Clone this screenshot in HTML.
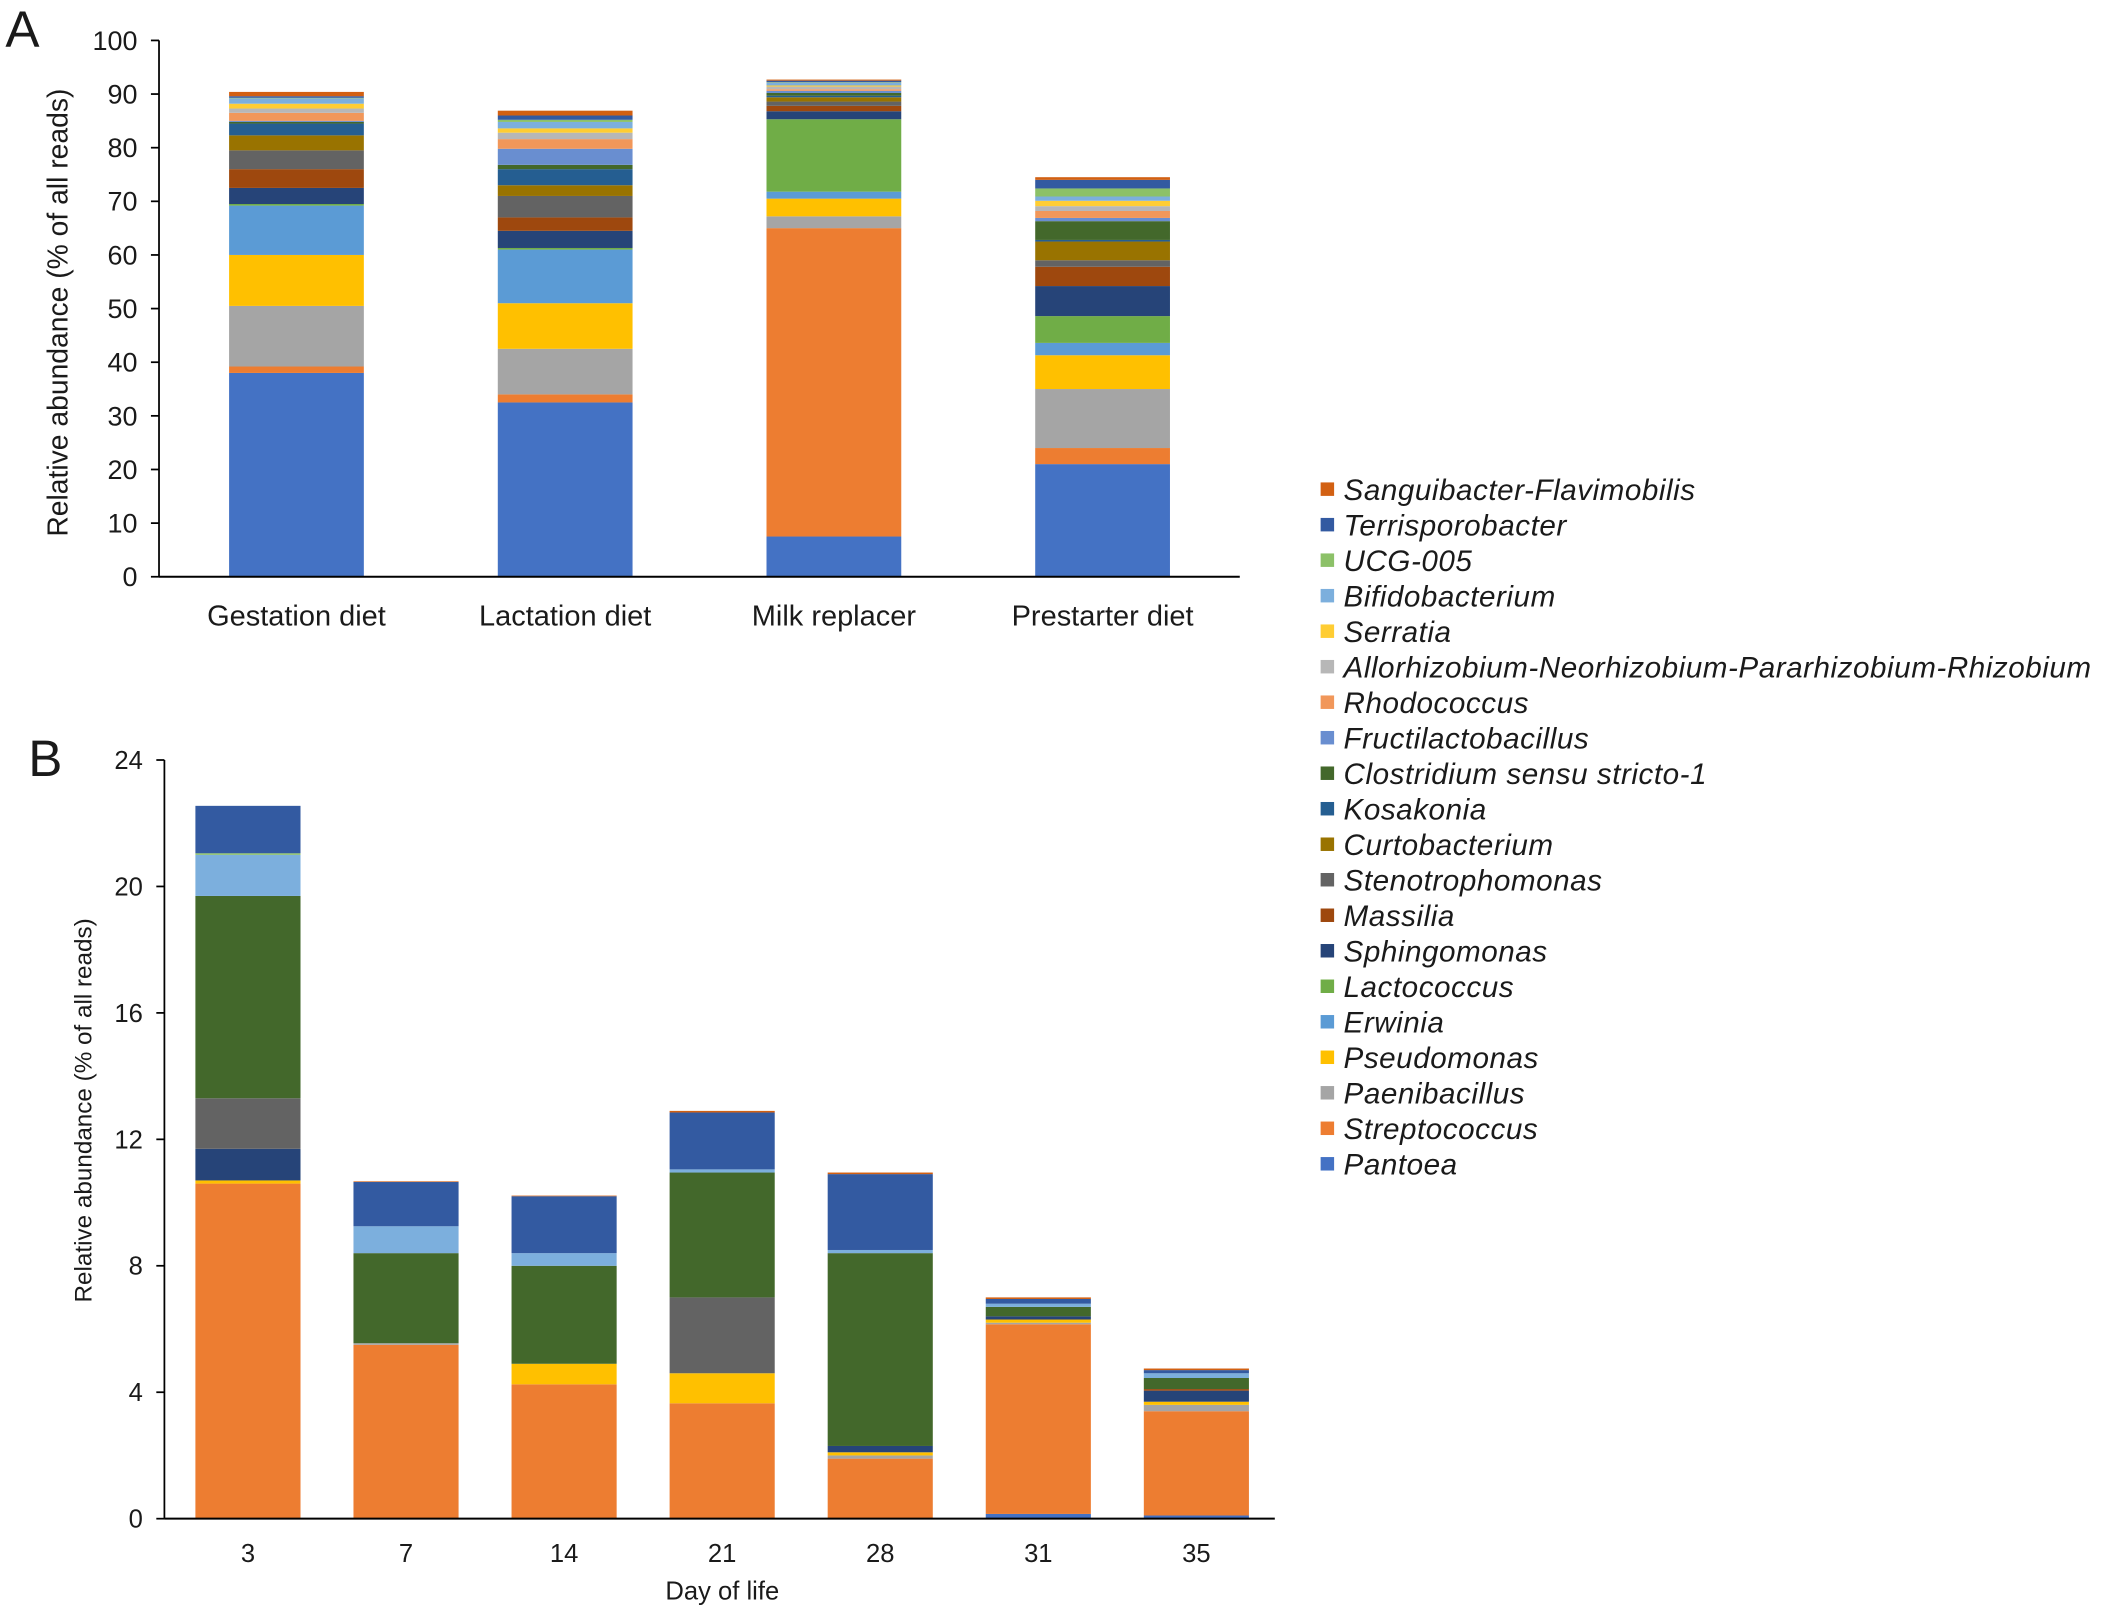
<!DOCTYPE html>
<html><head><meta charset="utf-8"><style>
html,body{margin:0;padding:0;background:#fff}
svg{display:block}
text{font-family:"Liberation Sans",Arial,sans-serif;fill:#1a1a1a}
</style></head><body>
<svg id="chart" width="2113" height="1613" viewBox="0 0 1568 1197" preserveAspectRatio="none" xmlns="http://www.w3.org/2000/svg">
<text x="4" y="35" font-size="38">A</text>
<text x="21" y="576" font-size="38">B</text>
<g id="ga"></g>
<g id="gb"></g>
<g id="legend"></g>
</svg>
<script>
const taxa = ["Pantoea","Streptococcus","Paenibacillus","Pseudomonas","Erwinia","Lactococcus","Sphingomonas","Massilia","Stenotrophomonas","Curtobacterium","Kosakonia","Clostridium sensu stricto-1","Fructilactobacillus","Rhodococcus","Allorhizobium-Neorhizobium-Pararhizobium-Rhizobium","Serratia","Bifidobacterium","UCG-005","Terrisporobacter","Sanguibacter-Flavimobilis"];
const colors = ["#4472C4","#ED7D31","#A5A5A5","#FFC000","#5B9BD5","#70AD47","#264478","#9E480E","#636363","#997300","#255E91","#43682B","#698ED0","#F1975A","#B7B7B7","#FFCD33","#7CAFDD","#8CC168","#335AA1","#D26012"];
const dietCategories = ["Gestation diet","Lactation diet","Milk replacer","Prestarter diet"];
const gestationValues = [38,1.2,11.3,9.5,9.2,0.3,3,3.5,3.5,2.8,2.2,0.3,0.2,1.5,0.8,0.9,1,0.1,0.3,0.8];
const lactationValues = [32.5,1.5,8.5,8.5,10,0.3,3.2,2.5,4,2,3,0.8,3,1.8,1.2,0.8,1.2,0.4,0.8,0.9];
const milkValues = [7.5,57.5,2.2,3.3,1.3,13.5,1.5,1,0.8,0.8,0.3,0.5,0.4,0.3,0.5,0.2,0.5,0.1,0.3,0.2];
const prestarterValues = [21,3,11,6.3,2.3,5,5.6,3.6,1.2,3.5,0.3,3.5,0.6,1.3,0.9,1,0.8,1.5,1.6,0.5];
const aTicks = [0,10,20,30,40,50,60,70,80,90,100];
const dayCategories = ["3","7","14","21","28","31","35"];
const day3 = [0,10.6,0,0.1,0,0,1,0,1.6,0,0,6.4,0,0,0,0,1.3,0.05,1.5,0];
const day7 = [0,5.5,0.05,0,0,0,0,0,0,0,0,2.85,0,0,0,0,0.85,0,1.4,0.02];
const day14 = [0,4.25,0,0.65,0,0,0,0,0,0,0,3.1,0,0,0,0,0.4,0,1.8,0.02];
const day21 = [0,3.65,0,0.95,0,0,0,0,2.4,0,0,3.95,0,0,0,0,0.1,0,1.8,0.05];
const day28 = [0,1.9,0.1,0.1,0,0,0.2,0,0,0,0,6.1,0,0,0,0,0.1,0,2.4,0.05];
const day31 = [0.15,6.0,0.05,0.1,0,0,0.1,0,0,0,0,0.3,0,0,0,0,0.1,0,0.15,0.05];
const day35 = [0.1,3.3,0.2,0.1,0,0,0.35,0.05,0,0,0,0.35,0,0,0,0,0.15,0,0.1,0.05];
const bTicks = [0,4,8,12,16,20,24];

const NS="http://www.w3.org/2000/svg";
function mk(tag,attrs,parent){const e=document.createElementNS(NS,tag);for(const k in attrs)e.setAttribute(k,attrs[k]);parent.appendChild(e);return e;}

function drawPanel(g,cfg){
  const {x0,x1,y0,y1,max,ticks,cats,series,barW,tickFs,catFs,catY,prefix,first,step}=cfg;
  const ys=v=>y0-(v/max)*(y0-y1);
  const xs=i=>first+step*i;
  series.forEach((vals,i)=>{
    let acc=0;
    vals.forEach((v,j)=>{
      if(v<=0)return;
      const r=mk('rect',{x:xs(i)-barW/2,y:ys(acc+v),width:barW,height:ys(acc)-ys(acc+v),fill:colors[j]},g);
      
      
      acc+=v;
    });
    const t=mk('text',{x:xs(i),y:catY,'font-size':catFs,'text-anchor':'middle'},g);
    t.textContent=cats[i];
    
    
  });
  ticks.forEach(v=>{
    const l=mk('line',{x1:x0-6,x2:x0,y1:ys(v),y2:ys(v),stroke:'#000','stroke-width':1.3},g);
    
    
    const t=mk('text',{x:x0-16,y:ys(v)+tickFs*0.35,'font-size':tickFs,'text-anchor':'end'},g);
    t.textContent=v;
    
    
  });
  const ya=mk('line',{x1:x0,x2:x0,y1:y0,y2:y1,stroke:'#000','stroke-width':1.3},g);
  
  
  const xa=mk('line',{x1:x0,x2:x1,y1:y0,y2:y0,stroke:'#000','stroke-width':1.5},g);
  
  
}

const ga=document.getElementById('ga');
drawPanel(ga,{x0:118,x1:920,y0:428,y1:30,max:100,ticks:aTicks,cats:dietCategories,series:[gestationValues,lactationValues,milkValues,prestarterValues],barW:100,tickFs:20,catFs:21.5,catY:464,prefix:'a',first:220,step:199.4});
let t=mk('text',{x:0,y:0,'font-size':21,'text-anchor':'middle',transform:'translate(50,232) rotate(-90)'},ga);
t.textContent='Relative abundance (% of all reads)';



const gb=document.getElementById('gb');
drawPanel(gb,{x0:122,x1:946,y0:1127,y1:564,max:24,ticks:bTicks,cats:dayCategories,series:[day3,day7,day14,day21,day28,day31,day35],barW:78,tickFs:19,catFs:19,catY:1159,prefix:'b',first:184,step:117.3});
t=mk('text',{x:0,y:0,'font-size':18,'text-anchor':'middle',transform:'translate(68,824) rotate(-90)'},gb);
t.textContent='Relative abundance (% of all reads)';


t=mk('text',{x:536,y:1187,'font-size':19,'text-anchor':'middle'},gb);
t.textContent='Day of life';



const lg=document.getElementById('legend');
for(let k=0;k<taxa.length;k++){
  const j=taxa.length-1-k;
  const y=364+k*26.35;
  const g=mk('g',{},lg);
  
  
  mk('rect',{x:980,y:y-6,width:10,height:10,fill:colors[j]},g);
  const tx=mk('text',{x:997,y:y+7,'font-size':22,'font-style':'italic','letter-spacing':'0.4'},g);
  tx.textContent=taxa[j];
}
</script>
</body></html>
